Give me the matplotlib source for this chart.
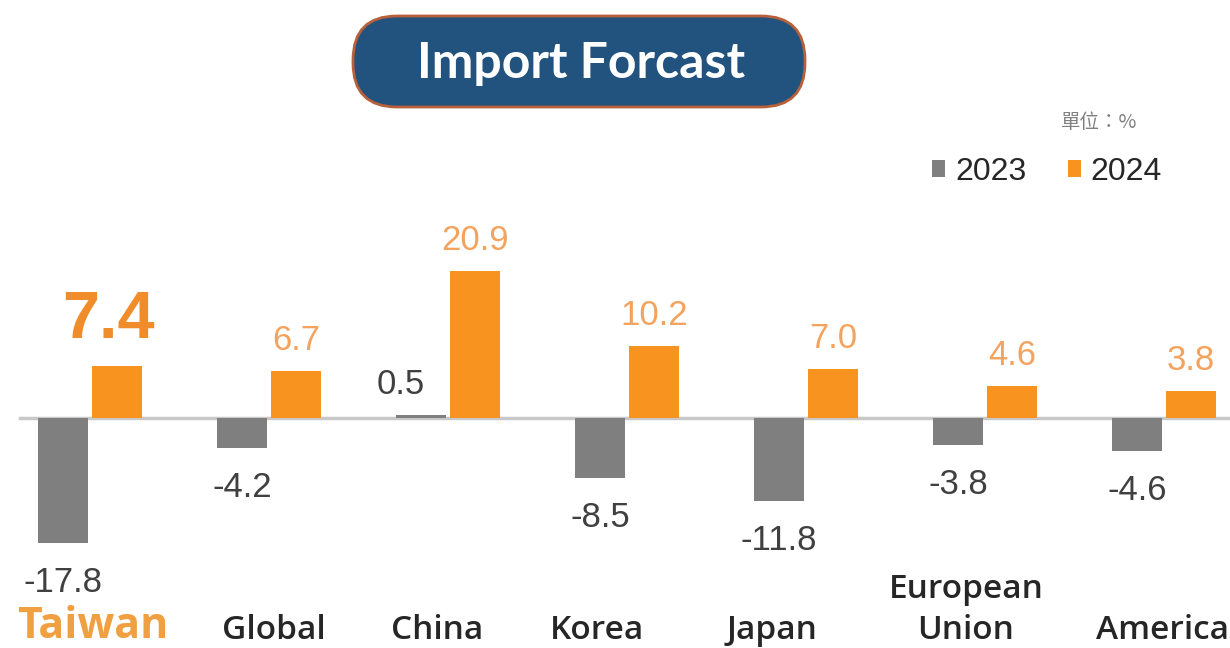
import matplotlib.pyplot as plt
from matplotlib.patches import FancyBboxPatch
from matplotlib.transforms import offset_copy
import numpy as np

# data (unit: %)
regions = ['Taiwan', 'Global', 'China', 'Korea', 'Japan', 'European\nUnion', 'America']
val_2023 = [-17.8, -4.2, 0.5, -8.5, -11.8, -3.8, -4.6]
val_2024 = [7.4, 6.7, 20.9, 10.2, 7.0, 4.6, 3.8]
years = ['2023', '2024']

grey = '#7f7f7f'
orange = '#f7931e'
label_orange = '#f4a35e'
dark = '#404040'

plt.rcParams['font.family'] = ['Liberation Sans', 'DejaVu Sans']

fig = plt.figure(figsize=(12.3, 6.48), dpi=100)
ax = fig.add_axes([0, 0, 1, 1])

x = np.arange(len(regions))
w = 0.28
b1 = ax.bar(x - 0.151, val_2023, w, color=grey, label=years[0], zorder=2)
b2 = ax.bar(x + 0.151, val_2024, w, color=orange, label=years[1], zorder=2)
ax.set_xlim(-0.503, 6.369)
ax.set_ylim(-32.7, 59.5)
ax.axis('off')
ax.axhline(0, xmin=0.016, xmax=1, color='#c8c8c8', lw=2.5, zorder=1)

# value labels, 2024
for i, v in enumerate(val_2024):
    if i == 0:
        ax.annotate(f'{v:.1f}', (x[i] + 0.151, v), xytext=(-9, 28), textcoords='offset pixels',
                    ha='center', va='baseline', fontsize=48, fontweight='bold', color='#f08c2a')
    else:
        ax.annotate(f'{v:.1f}', (x[i] + 0.151, v), xytext=(0, 21), textcoords='offset pixels',
                    ha='center', va='baseline', fontsize=25, color=label_orange)

# value labels, 2023
for i, v in enumerate(val_2023):
    if v >= 0:
        ax.annotate(f'{v:.1f}', (x[i] - 0.151, 0), xytext=(-20, 24), textcoords='offset pixels',
                    ha='center', va='baseline', fontsize=25, color=dark)
    else:
        ax.annotate(f'{v:.1f}', (x[i] - 0.151, v), xytext=(0, -23), textcoords='offset pixels',
                    ha='center', va='top', fontsize=25, color=dark)

# category labels
name_shift = [3, 5, -11, -30, -34, -19, -1]
for i, name in enumerate(regions):
    tr = offset_copy(ax.get_xaxis_transform(), fig=fig, x=name_shift[i], y=0, units='dots')
    if i == 0:
        ax.text(x[i], 0.016, name, transform=tr, ha='center', va='baseline',
                fontsize=31, fontweight='bold', color='#f0a040', family='Open Sans')
    else:
        ax.text(x[i], 0.014, name, transform=tr, ha='center', va='baseline',
                fontsize=24, fontweight='semibold', color='#262626', family='Open Sans',
                linespacing=1.3)

# title pill
pill = FancyBboxPatch((3.53, 5.41), 4.52, 0.91, boxstyle='round,pad=0,rounding_size=0.44',
                      transform=fig.dpi_scale_trans, fc='#22527e', ec='#b8603a', lw=2)
fig.patches.append(pill)
fig.text(581 / 1230, 1 - 63 / 648, 'Import Forcast', ha='center', va='center',
         fontsize=36, fontweight='bold', color='white', family='Lato')

# unit note
fig.text(1099 / 1230, 1 - 122 / 648, '單位：%', ha='center', va='center', fontsize=14,
         color='#808080', family=['Noto Sans CJK TC', 'DejaVu Sans'])

ax.legend(handles=[b1, b2], loc='center left', bbox_to_anchor=(932 / 1230, 1 - 172 / 648),
          bbox_transform=fig.transFigure, ncol=2, frameon=False, fontsize=23,
          handlelength=0.42, handleheight=0.42, handletextpad=0.3, columnspacing=1.3,
          borderpad=0, borderaxespad=0, labelcolor='#262626')

fig.savefig('out.png', dpi=100)
